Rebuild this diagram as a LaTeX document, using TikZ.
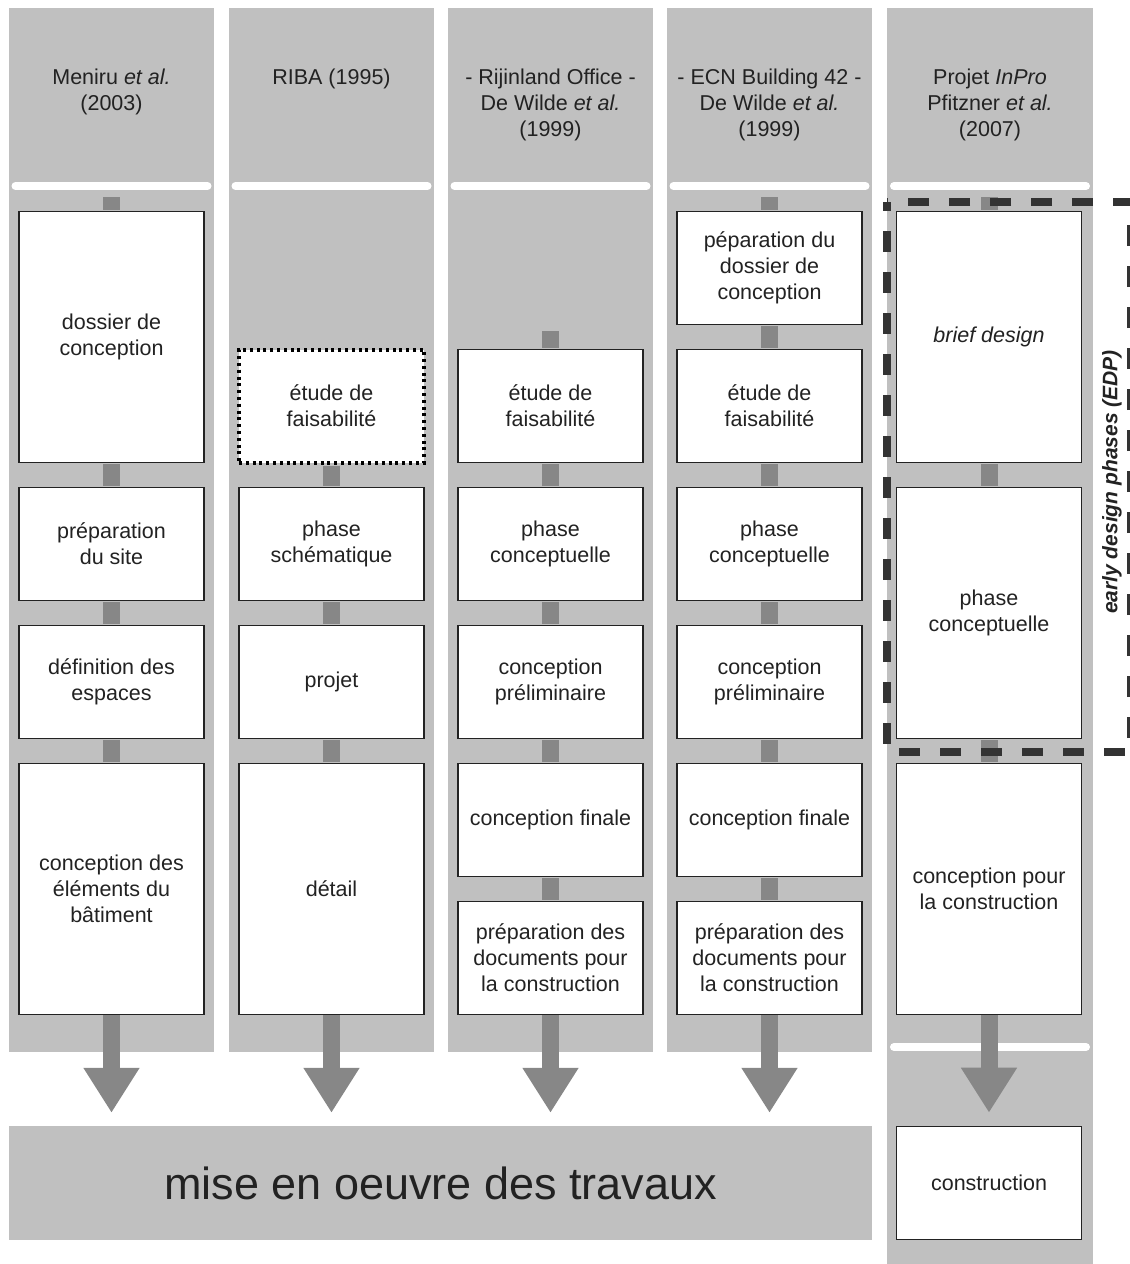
\documentclass[tikz,border=0pt]{standalone}
\usepackage{fontspec}
\setmainfont{Liberation Sans}
\usetikzlibrary{arrows.meta}
\definecolor{colgray}{HTML}{C0C0C0}
\definecolor{linkgray}{HTML}{878787}
\definecolor{inkgray}{HTML}{222222}
\definecolor{edpgray}{HTML}{333333}
\tikzset{
  column/.style={fill=colgray,draw=none},
  sep/.style={white,line width=8pt,line cap=round},
  phase/.style={draw=inkgray,line width=1.6pt,fill=white,minimum width=185pt,minimum height=113pt,align=center,inner sep=2pt},
  tall/.style={phase,minimum height=251pt},
  dotbox/.style={phase,draw=black,line width=4pt,dash pattern=on 3pt off 3.8pt},
  title/.style={align=center,anchor=north,inner sep=0pt},
  link/.style={linkgray,line width=17pt,shorten <=1pt,shorten >=1pt},
  flow/.style={linkgray,line width=17pt,shorten >=13pt,-{Triangle[length=45pt,width=53pt]}},
  edp/.style={edpgray,line width=8pt,dash pattern=on 21pt off 20pt,dash phase=12pt},
}
\begin{document}
\begin{tikzpicture}[x=1pt,y=-1pt,font=\fontsize{21.5}{26}\selectfont,text=inkgray]
\useasboundingbox (0,0) rectangle (1130,1264);
% columns
\foreach \cx in {111.5,331.5,550.5,769.5}
  \fill[column] (\cx-102.5,8) rectangle (\cx+102.5,1052);
\fill[column] (887,8) rectangle (1093,1264);
\foreach \cx in {111.5,331.5,550.5,769.5,990}
  \draw[sep] (\cx-96,186) -- (\cx+96,186);
\draw[sep] (894,1047) -- (1086,1047);
% titles
\node[title] (t1) at (111.5,69) {Meniru \textit{et al.}\\(2003)};
\node[title] (t2) at (331.5,69) {RIBA (1995)};
\node[title] (t3) at (550.5,69) {- Rijinland Office -\\De Wilde \textit{et al.}\\(1999)};
\node[title] (t4) at (769.5,69) {- ECN Building 42 -\\De Wilde \textit{et al.}\\(1999)};
\node[title] (t5) at (990,69) {Projet \textit{InPro}\\Pfitzner \textit{et al.}\\(2007)};
% Meniru
\coordinate (m0) at (111.5,196);
\node[tall] (m1) at (111.5,337) {dossier de\\conception};
\node[phase] (m2) at (111.5,544) {préparation\\du site};
\node[phase] (m3) at (111.5,682) {définition des\\espaces};
\node[tall] (m4) at (111.5,889) {conception des\\éléments du\\bâtiment};
% RIBA
\node[dotbox] (r1) at (331.5,406) {étude de\\faisabilité};
\node[phase] (r2) at (331.5,544) {phase\\schématique};
\node[phase] (r3) at (331.5,682) {projet};
\node[tall] (r4) at (331.5,889) {détail};
% Rijinland
\coordinate (w0) at (550.5,330);
\node[phase] (w1) at (550.5,406) {étude de\\faisabilité};
\node[phase] (w2) at (550.5,544) {phase\\conceptuelle};
\node[phase] (w3) at (550.5,682) {conception\\préliminaire};
\node[phase] (w4) at (550.5,820) {conception finale};
\node[phase] (w5) at (550.5,958) {préparation des\\documents pour\\la construction};
% ECN
\coordinate (n0) at (769.5,196);
\node[phase] (n1) at (769.5,268) {péparation du\\dossier de\\conception};
\node[phase] (n2) at (769.5,406) {étude de\\faisabilité};
\node[phase] (n3) at (769.5,544) {phase\\conceptuelle};
\node[phase] (n4) at (769.5,682) {conception\\préliminaire};
\node[phase] (n5) at (769.5,820) {conception finale};
\node[phase] (n6) at (769.5,958) {préparation des\\documents pour\\la construction};
% InPro
\coordinate (p0) at (989,196);
\node[tall] (p1) at (989,337) {\textit{brief design}};
\node[tall] (p2) at (989,613) {phase\\conceptuelle};
\node[tall] (p3) at (989,889) {conception pour\\la construction};
\node[phase] (cons) at (989,1183) {construction};
% works
\node[column,minimum width=863pt,minimum height=114pt,font=\fontsize{45}{54}\selectfont] (works) at (440.5,1183) {mise en oeuvre des travaux};
% links
\foreach \a/\b in {m0/m1,m1/m2,m2/m3,m3/m4,r1/r2,r2/r3,r3/r4,w0/w1,w1/w2,w2/w3,w3/w4,w4/w5,n0/n1,n1/n2,n2/n3,n3/n4,n4/n5,n5/n6,p0/p1,p1/p2,p2/p3}
  \draw[link] (\a) -- (\b);
\foreach \a in {m4,r4,w5,n6}
  \draw[flow] (\a) -- (\a |- works.north);
\draw[flow] (p3) -- (cons);
% early design phases
\draw[edp] (887,202) rectangle (1131,752);
\node[rotate=90,font=\bfseries\itshape\fontsize{21}{25}\selectfont] (edplabel) at (1112,482) {early design phases (EDP)};
\end{tikzpicture}
\end{document}
